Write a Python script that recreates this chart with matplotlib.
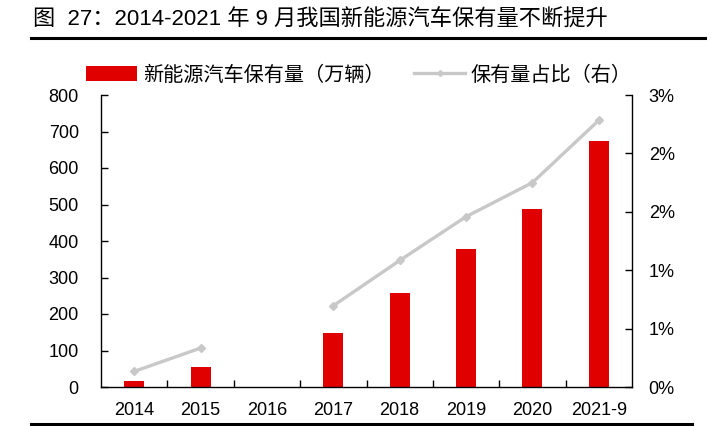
import numpy as np
import matplotlib
matplotlib.use('Agg')
import matplotlib.pyplot as plt
from matplotlib.lines import Line2D
from matplotlib.patches import Patch

plt.rcParams['font.family'] = ['Liberation Sans', 'Noto Sans CJK SC', 'DejaVu Sans']

# 数据 (图中读取)
years = ['2014', '2015', '2016', '2017', '2018', '2019', '2020', '2021-9']
stock = [17, 54, np.nan, 149, 257, 377, 489, 675]          # 新能源汽车保有量（万辆）
share = [0.16, 0.40, np.nan, 0.835, 1.30, 1.75, 2.10, 2.74]  # 保有量占比 (%)
left_ticks = [0, 100, 200, 300, 400, 500, 600, 700, 800]
right_ticks = [0, 0.6, 1.2, 1.8, 2.4, 3.0]

bar_color = '#e00000'
line_color = '#c8c8c8'

fig = plt.figure(figsize=(7.28, 4.26), dpi=100)
ax = fig.add_axes([101 / 728, 1 - 387 / 426, 531 / 728, 292 / 426])

x = np.arange(len(years))
ax.bar(x, stock, width=0.3, color=bar_color, zorder=2)
ax.set_xlim(-0.5, len(years) - 0.5)
ax.set_ylim(0, 800)
ax.set_yticks(left_ticks)
ax.set_xticks(x)
ax.set_xticklabels(years)
ax.set_xticks(np.arange(0.5, len(years) - 1, 1), minor=True)
ax.tick_params(axis='x', which='major', length=0, labelsize=13, pad=11)
ax.tick_params(axis='x', which='minor', direction='in', length=5, width=1)
ax.tick_params(axis='y', direction='in', length=5, width=1, labelsize=13, pad=16)
ax.spines['top'].set_visible(False)
ax.spines['right'].set_visible(False)
for s in ['left', 'bottom']:
    ax.spines[s].set_linewidth(1.0)

ax2 = ax.twinx()
ax2.plot(x, share, color=line_color, lw=2.4, marker='D', ms=4.5,
         markerfacecolor=line_color, markeredgecolor=line_color, zorder=3)
ax2.set_ylim(0, 3.0)
ax2.set_yticks(right_ticks)
ax2.set_yticklabels([f'{v:.0f}%' for v in right_ticks])
ax2.tick_params(axis='y', direction='in', length=5, width=1, labelsize=13, pad=12)
ax2.spines['top'].set_visible(False)
ax2.spines['left'].set_visible(False)
ax2.spines['bottom'].set_visible(False)
ax2.spines['right'].set_linewidth(1.0)

# 图例
handles = [Patch(facecolor=bar_color, edgecolor='none'),
           Line2D([0], [0], color=line_color, lw=2.4, marker='D', ms=3)]
fig.legend(handles, ['新能源汽车保有量（万辆）', '保有量占比（右）'],
           loc='center', bbox_to_anchor=(359 / 728, 1 - 75 / 426), ncol=2,
           frameon=False, fontsize=14.5, handlelength=2.5, handleheight=0.8,
           columnspacing=1.5, handletextpad=0.3)

# 标题与横线
fig.text(33 / 728, 1 - 20 / 426, '图  27：2014-2021 年 9 月我国新能源汽车保有量不断提升',
         fontsize=16, va='center', ha='left')
fig.add_artist(Line2D([31 / 728, 705 / 728], [1 - 38 / 426, 1 - 38 / 426],
                      color='black', lw=2.2, transform=fig.transFigure))
fig.add_artist(Line2D([31 / 728, 692 / 728], [1 - 424 / 426, 1 - 424 / 426],
                      color='black', lw=2.2, transform=fig.transFigure))

fig.savefig('out.png', dpi=100)
